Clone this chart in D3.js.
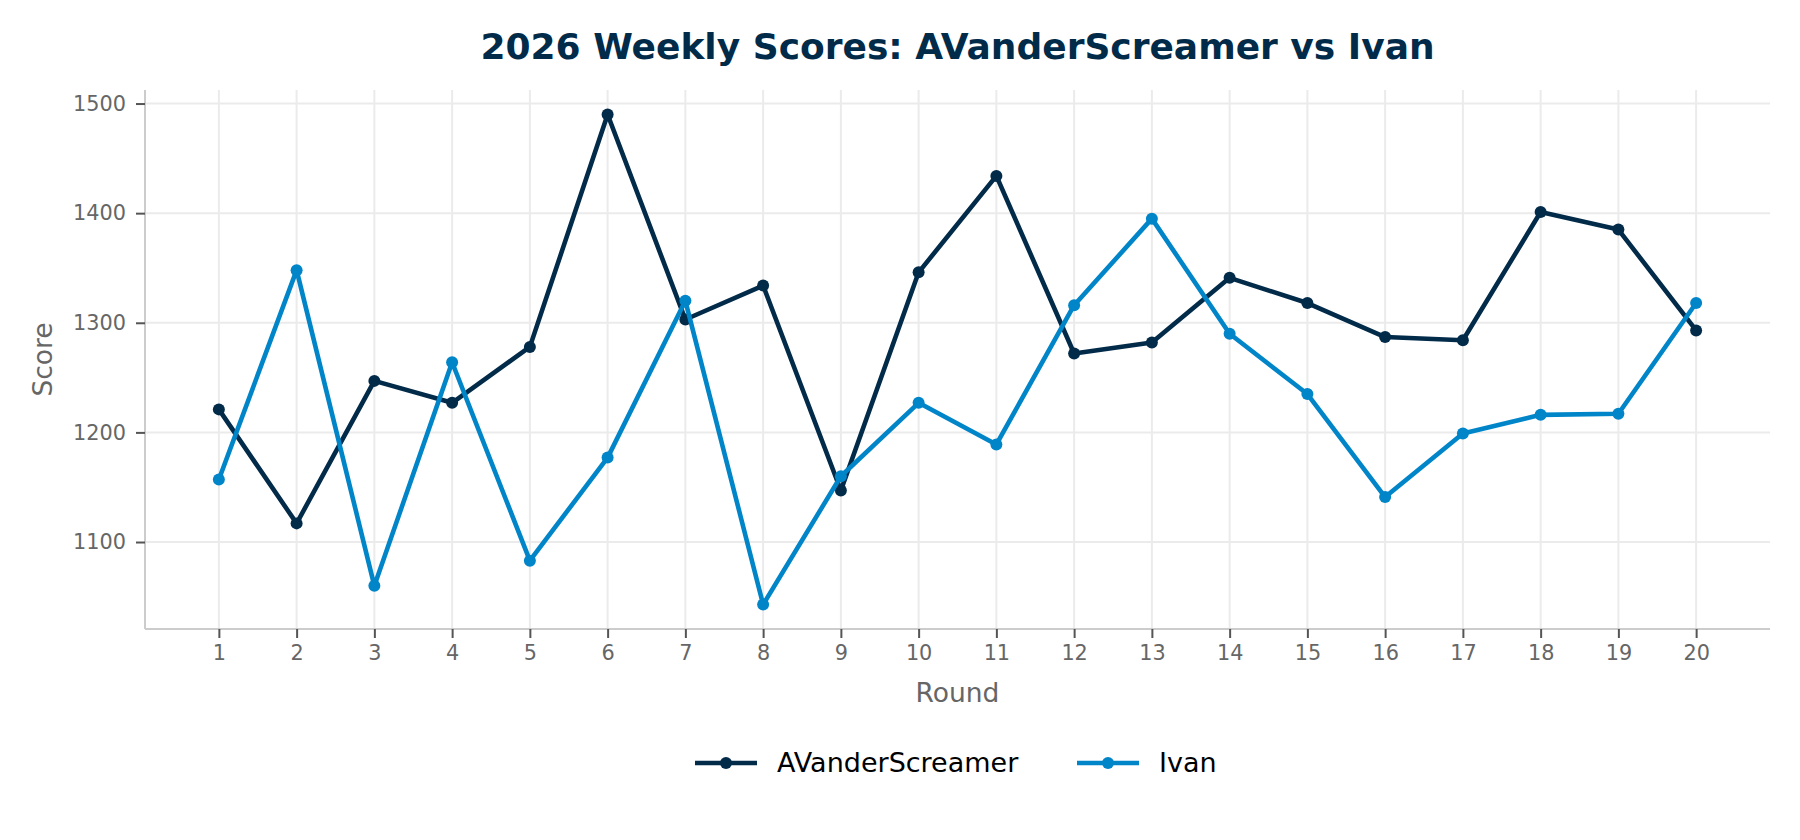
<!DOCTYPE html>
<html>
<head>
<meta charset="utf-8">
<script src="https://cdn.jsdelivr.net/npm/d3@7"></script>
<style>
  body { margin: 0; background: #fff; }
  svg text { font-family: "DejaVu Sans", sans-serif; }
</style>
</head>
<body>
<div id="chart"></div>
<script>
const rounds = [1, 2, 3, 4, 5, 6, 7, 8, 9, 10, 11, 12, 13, 14, 15, 16, 17, 18, 19, 20];
const avanderScores = [1221, 1117, 1247, 1227, 1278, 1490, 1303, 1334, 1147, 1346, 1434, 1272, 1282, 1341, 1318, 1287, 1284, 1401, 1385, 1293];
const ivanScores = [1157, 1348, 1060, 1264, 1083, 1177, 1320, 1043, 1160, 1227, 1189, 1316, 1395, 1290, 1235, 1141, 1199, 1216, 1217, 1318];
const seriesNames = ["AVanderScreamer", "Ivan"];
const seriesColors = ["#022b4a", "#0085c9"];
const yTicks = [1100, 1200, 1300, 1400, 1500];

const width = 1800, height = 840;
const margin = { top: 90, right: 30, bottom: 211, left: 145 };
const innerW = width - margin.left - margin.right;
const innerH = height - margin.top - margin.bottom;

const series = seriesNames.map((name, i) => ({
  name,
  color: seriesColors[i],
  values: rounds.map((r, j) => ({ round: r, score: [avanderScores, ivanScores][i][j] }))
}));

const svg = d3.select("#chart")
  .append("svg")
    .attr("width", width)
    .attr("height", height);

const g = svg.append("g")
  .attr("transform", `translate(${margin.left},${margin.top})`);

// matplotlib style 5% margins on both axes
const xPad = (d3.max(rounds) - d3.min(rounds)) * 0.05;
const allScores = avanderScores.concat(ivanScores);
const yMin = d3.min(allScores), yMax = d3.max(allScores);
const yPad = (yMax - yMin) * 0.05;

const x = d3.scaleLinear()
  .domain([d3.min(rounds) - xPad, d3.max(rounds) + xPad])
  .range([0, innerW]);

const y = d3.scaleLinear()
  .domain([yMin - yPad, yMax + yPad])
  .range([innerH, 0]);

// grid
g.append("g")
  .selectAll("line")
  .data(rounds)
  .join("line")
    .attr("x1", d => x(d)).attr("x2", d => x(d))
    .attr("y1", 0).attr("y2", innerH)
    .attr("stroke", "#ebebeb")
    .attr("stroke-width", 2);

g.append("g")
  .selectAll("line")
  .data(yTicks)
  .join("line")
    .attr("x1", 0).attr("x2", innerW)
    .attr("y1", d => y(d)).attr("y2", d => y(d))
    .attr("stroke", "#ebebeb")
    .attr("stroke-width", 2);

// axes
const xAxis = g.append("g")
  .attr("transform", `translate(0,${innerH})`)
  .call(d3.axisBottom(x).tickValues(rounds).tickFormat(d3.format("d")).tickSize(9).tickPadding(7));

const yAxis = g.append("g")
  .call(d3.axisLeft(y).tickValues(yTicks).tickFormat(d3.format("d")).tickSize(9).tickPadding(10));

[xAxis, yAxis].forEach(ax => {
  ax.select(".domain").attr("stroke", "#cccccc").attr("stroke-width", 2);
  ax.selectAll(".tick line").attr("stroke", "#555").attr("stroke-width", 2);
  ax.selectAll(".tick text")
    .attr("fill", "#666")
    .style("font-size", "20.8px")
    .style("font-family", "DejaVu Sans");
});
// domain without outer ticks
xAxis.select(".domain").attr("d", `M0,0H${innerW}`);
yAxis.select(".domain").attr("d", `M0,${innerH}V0`);

// lines
const line = d3.line()
  .x(d => x(d.round))
  .y(d => y(d.score));

series.forEach(s => {
  g.append("path")
    .datum(s.values)
    .attr("fill", "none")
    .attr("stroke", s.color)
    .attr("stroke-width", 4.6)
    .attr("stroke-linejoin", "round")
    .attr("d", line);

  g.append("g")
    .selectAll("circle")
    .data(s.values)
    .join("circle")
      .attr("cx", d => x(d.round))
      .attr("cy", d => y(d.score))
      .attr("r", 6)
      .attr("fill", s.color);
});

// title and axis labels
svg.append("text")
  .attr("x", margin.left + innerW / 2)
  .attr("y", 59)
  .attr("text-anchor", "middle")
  .attr("fill", "#022b4a")
  .style("font-size", "36px")
  .style("font-weight", "bold")
  .text("2026 Weekly Scores: AVanderScreamer vs Ivan");

svg.append("text")
  .attr("x", margin.left + innerW / 2)
  .attr("y", 702)
  .attr("text-anchor", "middle")
  .attr("fill", "#666")
  .style("font-size", "26.5px")
  .text("Round");

svg.append("text")
  .attr("transform", "rotate(-90)")
  .attr("x", -(margin.top + innerH / 2))
  .attr("y", 52)
  .attr("text-anchor", "middle")
  .attr("fill", "#666")
  .style("font-size", "26.5px")
  .text("Score");

// legend
const legendY = 763;
const legend = svg.append("g");
const legendX = [695, 1077];
series.forEach((s, i) => {
  const lg = legend.append("g").attr("transform", `translate(${legendX[i]},${legendY})`);
  lg.append("line")
    .attr("x1", 0).attr("x2", 62)
    .attr("stroke", s.color)
    .attr("stroke-width", 4.6);
  lg.append("circle")
    .attr("cx", 31)
    .attr("r", 6)
    .attr("fill", s.color);
  lg.append("text")
    .attr("x", 82)
    .attr("dy", "0.35em")
    .attr("fill", "#000")
    .style("font-size", "27px")
    .text(s.name);
});
</script>
</body>
</html>
